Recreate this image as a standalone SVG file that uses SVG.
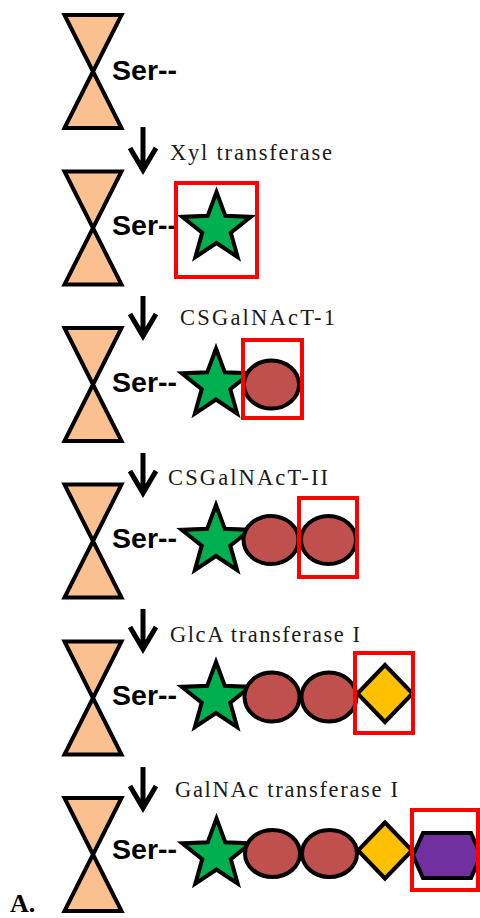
<svg xmlns="http://www.w3.org/2000/svg" xmlns:xlink="http://www.w3.org/1999/xlink" width="480" height="918" viewBox="0 0 480 918">
<style>
.hg{fill:#FAC090;stroke:#000;stroke-width:4;stroke-linejoin:miter}
.ser{font-family:"Liberation Sans",Arial,sans-serif;font-weight:bold;font-size:28px;fill:#000}
.lbl{font-family:"Liberation Serif","Times New Roman",serif;font-size:22.5px;fill:#1a1a1a}
.star{fill:#00B050;stroke:#000;stroke-width:4;stroke-linejoin:miter}
.el{fill:#C0504D;stroke:#000;stroke-width:4}
.dia{fill:#FFC000;stroke:#000;stroke-width:4}
.hex{fill:#7030A0;stroke:#000;stroke-width:4}
.box{fill:none;stroke:#FF0000;stroke-width:4}
.arr{fill:none;stroke:#000;stroke-width:5;stroke-linecap:butt;stroke-linejoin:miter}
</style>
<defs>
<path id="hglass" class="hg" d="M64.5,-56.5 L121.5,-56.5 L64.5,56.5 L121.5,56.5 Z"/>
<polygon id="star" class="star" points="0,-36 8.82,-12.14 34.24,-11.12 14.27,4.64 21.16,29.12 0,15 -21.16,29.12 -14.27,4.64 -34.24,-11.12 -8.82,-12.14"/>
</defs>

<g id="connectors">
<path class="arr" d="M143,127 V169 M130,148 L143,170 L156,148"/>
<path class="arr" d="M143,296 V335 M130,314 L143,336 L156,314"/>
<path class="arr" d="M143,453 V492 M130,471 L143,493 L156,471"/>
<path class="arr" d="M143,609 V648 M130,627 L143,649 L156,627"/>
<path class="arr" d="M143,767 V807 M130,786 L143,808 L156,786"/>
</g>

<g id="labels">
<text class="lbl" x="170" y="160" textLength="162" lengthAdjust="spacing">Xyl transferase</text>
<text class="lbl" x="180" y="325" textLength="155" lengthAdjust="spacing">CSGalNAcT-1</text>
<text class="lbl" x="168" y="485" textLength="160" lengthAdjust="spacing">CSGalNAcT-II</text>
<text class="lbl" x="170" y="642" textLength="190" lengthAdjust="spacing">GlcA transferase I</text>
<text class="lbl" x="175" y="797" textLength="223" lengthAdjust="spacing" fill="#3a2a1a">GalNAc transferase I</text>
</g>

<g id="row1" transform="translate(0,71.5)">
<use xlink:href="#hglass"/>
<text class="ser" x="112" y="8" textLength="65" lengthAdjust="spacingAndGlyphs">Ser--</text>
</g>

<g id="row2" transform="translate(0,228)">
<use xlink:href="#hglass"/>
<text class="ser" x="112" y="7" textLength="65" lengthAdjust="spacingAndGlyphs">Ser--</text>
<use xlink:href="#star" x="216.5" y="0"/>
</g>

<g id="row3" transform="translate(0,384.5)">
<use xlink:href="#hglass"/>
<text class="ser" x="112" y="7" textLength="65" lengthAdjust="spacingAndGlyphs">Ser--</text>
<use xlink:href="#star" x="216" y="0"/>
<ellipse class="el" cx="271.5" cy="0" rx="27.5" ry="24"/>
</g>

<g id="row4" transform="translate(0,541)">
<use xlink:href="#hglass"/>
<text class="ser" x="112" y="7" textLength="65" lengthAdjust="spacingAndGlyphs">Ser--</text>
<use xlink:href="#star" x="216" y="0"/>
<ellipse class="el" cx="271" cy="-1" rx="27.5" ry="24"/>
<ellipse class="el" cx="328.5" cy="-1" rx="27.5" ry="24"/>
</g>

<g id="row5" transform="translate(0,698)">
<use xlink:href="#hglass"/>
<text class="ser" x="112" y="7" textLength="65" lengthAdjust="spacingAndGlyphs">Ser--</text>
<use xlink:href="#star" x="216" y="0"/>
<ellipse class="el" cx="272" cy="-1" rx="27.5" ry="24.5"/>
<ellipse class="el" cx="329" cy="-1" rx="27.5" ry="24.5"/>
<polygon class="dia" points="385,-33 412.5,-4.5 385,24 357.5,-4.5"/>
</g>

<g id="row6" transform="translate(0,854.5)">
<use xlink:href="#hglass"/>
<text class="ser" x="112" y="4" textLength="65" lengthAdjust="spacingAndGlyphs">Ser--</text>
<use xlink:href="#star" x="216.5" y="0"/>
<ellipse class="el" cx="272.5" cy="-1" rx="27.5" ry="23.5"/>
<ellipse class="el" cx="329.5" cy="-1" rx="27.5" ry="23.5"/>
<polygon class="dia" points="385,-32 412,-4 385,24 358,-4"/>
<polygon class="hex" points="413,1 423,-21.5 471,-21.5 481,1 471,23.5 423,23.5"/>
</g>

<g id="highlights">
<rect class="box" x="176" y="183" width="81" height="94"/>
<rect class="box" x="243" y="340" width="59" height="78"/>
<rect class="box" x="299" y="498" width="58" height="79"/>
<rect class="box" x="355" y="653" width="58" height="80"/>
<rect class="box" x="412" y="810" width="66" height="80"/>
</g>

<text id="panel" x="10" y="912" font-family="'Liberation Serif','Times New Roman',serif" font-weight="bold" font-size="26px" fill="#000">A.</text>
</svg>
